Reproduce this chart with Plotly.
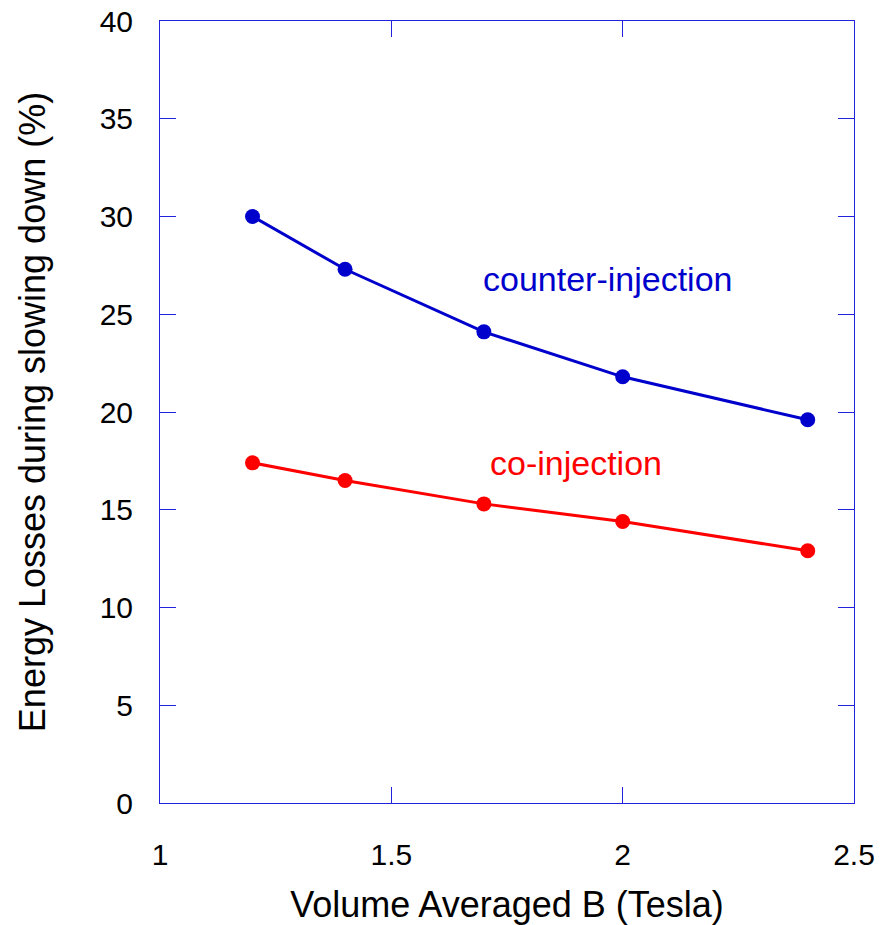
import plotly.graph_objects as go

b_field = [1.2, 1.4, 1.7, 2.0, 2.4]
counter_injection = [30.0, 27.3, 24.1, 21.8, 19.6]
co_injection = [17.4, 16.5, 15.3, 14.4, 12.9]

x_ticks = [1, 1.5, 2, 2.5]
x_tick_labels = ["1", "1.5", "2", "2.5"]
y_ticks = [0, 5, 10, 15, 20, 25, 30, 35, 40]
y_tick_labels = ["0", "5", "10", "15", "20", "25", "30", "35", "40"]

blue = "#0000CC"
red = "#FF0000"
axis_col = "#2222DD"
font_fam = "Liberation Sans, Arial"

fig = go.Figure()
fig.add_trace(go.Scatter(x=b_field, y=counter_injection, mode="lines+markers",
                         line=dict(color=blue, width=3),
                         marker=dict(color=blue, size=15), showlegend=False))
fig.add_trace(go.Scatter(x=b_field, y=co_injection, mode="lines+markers",
                         line=dict(color=red, width=3),
                         marker=dict(color=red, size=15), showlegend=False))

fig.add_annotation(x=1.968, y=26.8, text="counter-injection", showarrow=False,
                   font=dict(family=font_fam, size=34, color=blue))
fig.add_annotation(x=1.90, y=17.4, text="co-injection", showarrow=False,
                   font=dict(family=font_fam, size=34, color=red))

axis_common = dict(showline=True, linecolor=axis_col, linewidth=1, mirror="allticks",
                   ticks="inside", ticklen=16, tickcolor=axis_col, tickwidth=1,
                   showgrid=False, zeroline=False, automargin=False,
                   tickfont=dict(family=font_fam, size=30, color="black"))

fig.update_xaxes(range=[1, 2.5], tickvals=x_ticks, ticktext=x_tick_labels,
                 ticklabelstandoff=25,
                 title=dict(text="Volume Averaged B (Tesla)", standoff=28,
                            font=dict(family=font_fam, size=36, color="black")),
                 **axis_common)
fig.update_yaxes(range=[0, 40], tickvals=y_ticks, ticktext=y_tick_labels,
                 ticklabelstandoff=20,
                 title=dict(text="Energy Losses during slowing down (%)", standoff=43,
                            font=dict(family=font_fam, size=36, color="black")),
                 **axis_common)

fig.update_layout(width=886, height=925, plot_bgcolor="white", paper_bgcolor="white",
                  margin=dict(l=160, r=32, t=21, b=122))

fig.write_html("out.html")
